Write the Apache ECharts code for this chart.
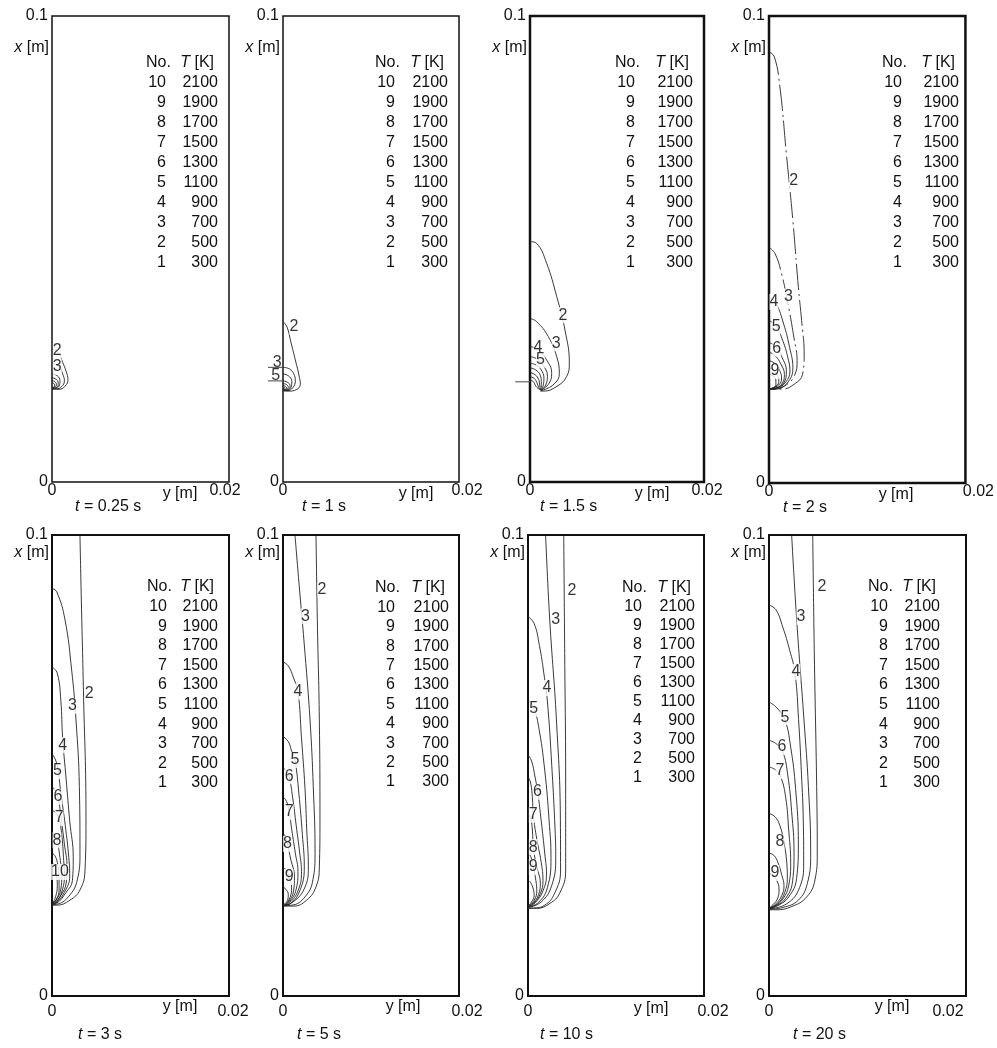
<!DOCTYPE html>
<html><head><meta charset="utf-8">
<script src="https://cdn.jsdelivr.net/npm/echarts/dist/echarts.min.js"></script>
<style>html,body{margin:0;padding:0;background:#fff}#c{width:997px;height:1048px}</style>
</head><body><div id="c"></div>
<script>
// ---------- DATA (y [m], x [m]) ----------
const times = ['0.25', '1', '1.5', '2', '3', '5', '10', '20'];
const legendNo = ['10', '9', '8', '7', '6', '5', '4', '3', '2', '1'];
const legendT = ['2100', '1900', '1700', '1500', '1300', '1100', '900', '700', '500', '300'];
const yTickValues = [0, 0.02];
const xTickValues = [0, 0.1];

const c_t0_25 = [
  [2, [[0,0.0285],[0.0007,0.0278],[0.0012,0.0257],[0.0016,0.0237],[0.0018,0.0220],[0.0015,0.0206],[0.0008,0.0199],[0,0.0199]]],
  [3, [[0,0.0255],[0.0008,0.0247],[0.0012,0.0232],[0.0014,0.0217],[0.0011,0.0205],[0.0005,0.0200],[0,0.0200]]],
  [4, [[0,0.0232],[0.0006,0.0228],[0.0009,0.0217],[0.0008,0.0206],[0.0004,0.0201],[0,0.0201]]],
  [5, [[0,0.0224],[0.0005,0.0220],[0.0007,0.0212],[0.0006,0.0204],[0,0.0201]]],
  [6, [[0,0.0218],[0.0004,0.0214],[0.0005,0.0208],[0.0003,0.0203],[0,0.0202]]],
  [7, [[0,0.0213],[0.0003,0.0209],[0.0003,0.0205],[0,0.0203]]]
];
const lab_t0_25 = [[0.0006,0.0282,'2'],[0.0006,0.0247,'3']];

const c_t1 = [
  [2, [[0,0.0344],[0.00045,0.0333],[0.0009,0.0300],[0.0014,0.0262],[0.00185,0.0226],[0.00197,0.0210],[0.0015,0.0198],[0.0006,0.0195],[0,0.0196]]],
  [3, [[0,0.0246],[0.0007,0.0243],[0.0012,0.0233],[0.0014,0.0217],[0.0011,0.0202],[0.0005,0.0196],[0,0.0196]]],
  [4, [[0,0.0232],[0.0006,0.0228],[0.0010,0.0216],[0.0009,0.0203],[0.0004,0.0197],[0,0.0197]]],
  [5, [[0,0.0217],[0.0005,0.0214],[0.0008,0.0207],[0.0007,0.0200],[0,0.0197]]],
  [6, [[0,0.0211],[0.0004,0.0209],[0.0006,0.0203],[0.0003,0.0198],[0,0.0197]]],
  [7, [[0,0.0207],[0.0003,0.0205],[0.0004,0.0201],[0,0.0198]]],
  [8, [[0,0.0204],[0.0002,0.0202],[0,0.0199]]]
];
const lab_t1 = [[0.00125,0.0333,'2'],[-0.00065,0.0256,'3'],[-0.00083,0.0228,'5']];
// leader stubs drawn left of the axis: [y0, x0, y1, x1]
const stub_t1 = [[-0.0017,0.0246,0,0.0246],[-0.0017,0.0217,0,0.0217]];

const c_t1_5 = [
  [2, [[0,0.0516],[0.00077,0.0512],[0.00192,0.0469],[0.00307,0.0398],[0.00402,0.0326],[0.00452,0.0255],[0.0042,0.0226],[0.00307,0.0205],[0.00153,0.0195],[0.0012,0.0195]]],
  [3, [[0,0.0351],[0.00077,0.0344],[0.0021,0.0312],[0.00307,0.0269],[0.00337,0.0233],[0.00287,0.0212],[0.0015,0.0197],[0.0012,0.0196]]],
  [4, [[0,0.0290],[0.0008,0.0286],[0.0018,0.0265],[0.00249,0.0233],[0.0022,0.0212],[0.0013,0.0197]]],
  [5, [[0,0.0269],[0.0008,0.0264],[0.0016,0.0248],[0.0020,0.0227],[0.0018,0.0208],[0.0013,0.0197]]],
  [6, [[0,0.0255],[0.0008,0.0250],[0.0014,0.0237],[0.0016,0.0222],[0.0015,0.0206],[0.0013,0.0197]]],
  [7, [[0,0.0245],[0.0007,0.0240],[0.0012,0.0228],[0.0013,0.0216],[0.0013,0.0203],[0.0013,0.0197]]],
  [8, [[0,0.0235],[0.0006,0.0230],[0.0010,0.0220],[0.0011,0.0210],[0.0012,0.0198]]],
  [9, [[0,0.0226],[0.0005,0.0222],[0.0008,0.0213],[0.0010,0.0203],[0.0012,0.0198]]],
  [10, [[0,0.0219],[0.0004,0.0215],[0.0006,0.0208],[0.0009,0.0201],[0.0012,0.0198]]]
];
const lab_t1_5 = [[0.0038,0.0358,'2'],[0.0030,0.0298,'3'],[0.0009,0.0289,'4'],[0.0012,0.0262,'5']];
const stub_t1_5 = [[-0.0017,0.0215,0,0.0215]];

const c_t2 = [
  [2, [[0,0.0923],[0.00054,0.0913],[0.00111,0.0848],[0.00177,0.0705],[0.00243,0.0562],[0.00299,0.0419],[0.00332,0.0348],[0.00358,0.0276],[0.00342,0.0233],[0.00259,0.0212],[0.00128,0.0201],[0,0.0201]]],
  [3, [[0,0.0505],[0.00062,0.0491],[0.00128,0.0448],[0.00194,0.0383],[0.00253,0.0312],[0.00286,0.0262],[0.00259,0.0230],[0.00161,0.0208],[0.0006,0.0201],[0,0.0201]]],
  [4, [[0,0.0398],[0.0007,0.0385],[0.0015,0.0340],[0.0021,0.0290],[0.00243,0.0247],[0.0020,0.0218],[0.0010,0.0203],[0,0.0201]]],
  [5, [[0,0.0348],[0.0007,0.0337],[0.0014,0.0305],[0.0019,0.0270],[0.00213,0.0240],[0.0017,0.0216],[0.0008,0.0203],[0,0.0201]]],
  [6, [[0,0.0301],[0.0007,0.0292],[0.0013,0.0270],[0.00177,0.0240],[0.0015,0.0214],[0.0007,0.0203],[0,0.0201]]],
  [7, [[0,0.0280],[0.0006,0.0273],[0.0012,0.0255],[0.00157,0.0232],[0.0013,0.0212],[0.0006,0.0203],[0,0.0201]]],
  [8, [[0,0.0262],[0.0006,0.0256],[0.0011,0.0240],[0.00128,0.0225],[0.0010,0.0210],[0,0.0201]]],
  [9, [[0,0.0247],[0.0005,0.0242],[0.0009,0.0230],[0.0010,0.0218],[0.0007,0.0207],[0,0.0201]]],
  [10, [[0,0.0233],[0.0004,0.0229],[0.0007,0.0220],[0.0007,0.0210],[0,0.0201]]]
];
const lab_t2 = [[0.00251,0.0648,'2'],[0.00197,0.0399,'3'],[0.0005,0.0388,'4'],[0.00074,0.0335,'5'],[0.00079,0.0288,'6'],[0.0006,0.0240,'9']];

const c_t3 = [
  [2, [[0.00316,0.1],[0.00328,0.0888],[0.00354,0.0671],[0.00384,0.0382],[0.00373,0.0273],[0.00316,0.0230],[0.00203,0.0208],[0.00053,0.0197],[0,0.0197]]],
  [3, [[0,0.0884],[0.00053,0.0877],[0.00147,0.0816],[0.00222,0.0707],[0.00271,0.0599],[0.00309,0.0454],[0.00316,0.0310],[0.00286,0.0252],[0.00184,0.0215],[0.00053,0.0199],[0,0.0198]]],
  [4, [[0,0.0714],[0.0006,0.0700],[0.0010,0.0640],[0.0012,0.0560],[0.0016,0.0470],[0.0020,0.0380],[0.0024,0.0300],[0.0023,0.0250],[0.0016,0.0225],[0.0005,0.0201],[0,0.0199]]],
  [5, [[0,0.0525],[0.0004,0.0512],[0.0007,0.0488],[0.0010,0.0440],[0.0015,0.0370],[0.0019,0.0300],[0.0020,0.0260],[0.0014,0.0225],[0.0004,0.0201],[0,0.0199]]],
  [6, [[0,0.0454],[0.0004,0.0445],[0.0007,0.0430],[0.0010,0.0390],[0.0014,0.0330],[0.0017,0.0280],[0.0016,0.0245],[0.0010,0.0218],[0.0003,0.0201],[0,0.0199]]],
  [7, [[0,0.0403],[0.0005,0.0396],[0.0008,0.0384],[0.0011,0.0350],[0.0013,0.0300],[0.0014,0.0260],[0.0012,0.0232],[0.0007,0.0210],[0,0.0199]]],
  [8, [[0,0.0354],[0.0004,0.0348],[0.0006,0.0336],[0.0009,0.0300],[0.0011,0.0260],[0.0010,0.0232],[0.0006,0.0212],[0,0.0199]]],
  [9, [[0,0.0310],[0.0003,0.0305],[0.0006,0.0290],[0.0008,0.0255],[0.0008,0.0230],[0.0005,0.0210],[0,0.0199]]],
  [10, [[0,0.0288],[0.0003,0.0283],[0.0005,0.0265],[0.0006,0.0240],[0.0004,0.0215],[0,0.0199]]]
];
const lab_t3 = [[0.0042,0.0655,'2'],[0.00232,0.0629,'3'],[0.0012,0.0544,'4'],[0.00062,0.0488,'5'],[0.00068,0.0432,'6'],[0.0008,0.0386,'7'],[0.00056,0.0338,'8'],[0.0009,0.0269,'10']];

const c_t5 = [
  [2, [[0.00375,0.1],[0.0039,0.0816],[0.00413,0.0599],[0.0042,0.0382],[0.00413,0.0280],[0.00375,0.0237],[0.00269,0.0208],[0.00117,0.0195],[0,0.0195]]],
  [3, [[0.00136,0.1],[0.00185,0.0888],[0.0025,0.0743],[0.00307,0.0599],[0.00344,0.0454],[0.00364,0.0310],[0.0034,0.0252],[0.0025,0.0215],[0.001,0.0197],[0,0.0196]]],
  [4, [[0,0.0725],[0.0006,0.0716],[0.0012,0.0690],[0.0017,0.0660],[0.0021,0.0560],[0.0025,0.0450],[0.0027,0.0360],[0.00288,0.0280],[0.0024,0.0232],[0.0010,0.0202],[0,0.0196]]],
  [5, [[0,0.0563],[0.0006,0.0552],[0.0010,0.0530],[0.00136,0.0512],[0.0018,0.0440],[0.0022,0.0350],[0.00242,0.0280],[0.0019,0.0228],[0.0008,0.0200],[0,0.0196]]],
  [6, [[0,0.0495],[0.0004,0.0488],[0.0007,0.0476],[0.0011,0.0430],[0.0015,0.0370],[0.0019,0.0310],[0.0021,0.0270],[0.0017,0.0228],[0.0007,0.0201],[0,0.0196]]],
  [7, [[0,0.0432],[0.0004,0.0422],[0.0007,0.0400],[0.0010,0.0360],[0.0014,0.0310],[0.0017,0.0270],[0.0015,0.0232],[0.0006,0.0201],[0,0.0196]]],
  [8, [[0,0.0353],[0.0003,0.0345],[0.0005,0.0330],[0.0009,0.0295],[0.0013,0.0260],[0.0012,0.0228],[0.0005,0.0201],[0,0.0196]]],
  [9, [[0,0.0280],[0.0004,0.0272],[0.0007,0.0258],[0.00098,0.0235],[0.0008,0.0214],[0.0003,0.0199],[0,0.0196]]],
  [10, [[0,0.0237],[0.0003,0.0232],[0.0006,0.0220],[0.0005,0.0207],[0,0.0197]]]
];
const lab_t5 = [[0.00443,0.0881,'2'],[0.00256,0.0824,'3'],[0.0017,0.066,'4'],[0.00136,0.0512,'5'],[0.0007,0.0477,'6'],[0.0007,0.0399,'7'],[0.0005,0.033,'8'],[0.0007,0.0258,'9']];

const c_t10 = [
  [2, [[0.00406,0.1],[0.00417,0.0743],[0.00428,0.0454],[0.00428,0.0273],[0.0036,0.0223],[0.0025,0.0201],[0.00095,0.0190],[0,0.0190]]],
  [3, [[0.0020,0.1],[0.00247,0.0816],[0.00323,0.0599],[0.00368,0.0382],[0.0037,0.0273],[0.00303,0.0223],[0.0019,0.0197],[0.0006,0.0191],[0,0.0191]]],
  [4, [[0,0.0823],[0.0007,0.0808],[0.0013,0.0760],[0.0018,0.0700],[0.0022,0.0640],[0.0027,0.0500],[0.0031,0.0350],[0.00315,0.0300],[0.0027,0.0240],[0.0015,0.0204],[0,0.0192]]],
  [5, [[0,0.0642],[0.0006,0.0628],[0.0012,0.0585],[0.0019,0.0490],[0.0024,0.0380],[0.00261,0.0300],[0.0022,0.0235],[0.0012,0.0203],[0,0.0193]]],
  [6, [[0,0.0523],[0.0004,0.0510],[0.0008,0.0475],[0.0011,0.0443],[0.0015,0.0380],[0.0019,0.0310],[0.0021,0.0265],[0.0017,0.0228],[0.0008,0.0202],[0,0.0193]]],
  [7, [[0,0.0476],[0.0003,0.0462],[0.0005,0.0430],[0.0006,0.0393],[0.0010,0.0340],[0.0015,0.0290],[0.0017,0.0250],[0.0014,0.0222],[0.0007,0.0202],[0,0.0193]]],
  [8, [[0,0.0396],[0.0003,0.0385],[0.0005,0.0360],[0.0006,0.0323],[0.0010,0.0280],[0.0014,0.0245],[0.0012,0.0220],[0.0006,0.0202],[0,0.0193]]],
  [9, [[0,0.0310],[0.0003,0.0303],[0.0006,0.0280],[0.0009,0.0250],[0.0010,0.0228],[0.0007,0.0208],[0,0.0194]]],
  [10, [[0,0.0252],[0.0003,0.0246],[0.0006,0.0232],[0.0007,0.0218],[0.0004,0.0204],[0,0.0195]]]
];
const lab_t10 = [[0.005,0.088,'2'],[0.00315,0.0816,'3'],[0.00215,0.0668,'4'],[0.00065,0.0623,'5'],[0.00108,0.0443,'6'],[0.0006,0.0393,'7'],[0.0006,0.0323,'8'],[0.0006,0.028,'9']];

const c_t20 = [
  [2, [[0.00444,0.1],[0.0046,0.0743],[0.00484,0.0454],[0.0049,0.0310],[0.00467,0.0252],[0.00383,0.0215],[0.0023,0.0194],[0.00069,0.0187],[0,0.0187]]],
  [3, [[0.0023,0.1],[0.00281,0.0816],[0.00355,0.0599],[0.0040,0.0454],[0.00423,0.0310],[0.00389,0.0244],[0.00298,0.0208],[0.00142,0.0192],[0,0.0188]]],
  [4, [[0,0.0848],[0.0007,0.0838],[0.0014,0.0800],[0.0021,0.0750],[0.00264,0.0700],[0.0030,0.0600],[0.0033,0.0480],[0.00348,0.0382],[0.00352,0.0290],[0.0031,0.0235],[0.0018,0.0200],[0,0.0189]]],
  [5, [[0,0.0638],[0.0008,0.0625],[0.0016,0.0600],[0.0022,0.0540],[0.0027,0.0450],[0.00298,0.0330],[0.0028,0.0255],[0.0020,0.0215],[0.0009,0.0196],[0,0.0189]]],
  [6, [[0,0.0555],[0.0008,0.0546],[0.0014,0.0530],[0.0019,0.0480],[0.0023,0.0400],[0.00254,0.0310],[0.0024,0.0250],[0.0017,0.0212],[0.0007,0.0195],[0,0.0189]]],
  [7, [[0,0.0497],[0.0007,0.0490],[0.0012,0.0475],[0.0017,0.0430],[0.0020,0.0360],[0.0022,0.0290],[0.0020,0.0240],[0.0014,0.0210],[0.0006,0.0195],[0,0.0190]]],
  [8, [[0,0.0396],[0.0006,0.0389],[0.0011,0.0370],[0.0015,0.0335],[0.0018,0.0290],[0.00186,0.0255],[0.0016,0.0225],[0.0010,0.0203],[0,0.0190]]],
  [9, [[0,0.0310],[0.0005,0.0305],[0.0009,0.0290],[0.0013,0.0262],[0.00152,0.0240],[0.0013,0.0218],[0.0007,0.0200],[0,0.0190]]],
  [10, [[0,0.0266],[0.0004,0.0262],[0.0008,0.0250],[0.00102,0.0232],[0.0009,0.0213],[0.0004,0.0198],[0,0.0191]]]
];
const lab_t20 = [[0.00538,0.0887,'2'],[0.00325,0.0822,'3'],[0.00274,0.0703,'4'],[0.00162,0.0605,'5'],[0.00132,0.054,'6'],[0.00112,0.0488,'7'],[0.00112,0.0334,'8'],[0.00061,0.0267,'9']];

// ---------- LAYOUT ----------
const FONT = '"Liberation Sans", Arial, Helvetica, sans-serif';
const panels = [
  {c:c_t0_25, l:lab_t0_25, s:[], box:[52,16,177,466], bw:1.5, leg:[166,218,63,20], xmY:48, ym:[180,494], tl:[75,507], d02:-4, dash:false, xm:1},
  {c:c_t1, l:lab_t1, s:stub_t1, box:[283,16,176,466], bw:1.5, leg:[395,448,63,20], xmY:48, ym:[416,494], tl:[302,507], d02:8, dash:false, xm:1},
  {c:c_t1_5, l:lab_t1_5, s:stub_t1_5, box:[530,16,174,466], bw:2.5, leg:[635,693,63,20], xmY:48, ym:[652,494], tl:[540,507], d02:3, dash:false, xm:1},
  {c:c_t2, l:lab_t2, s:[], box:[769,16,203,467], bw:2.5, leg:[902,959,63,20], xmY:48, ym:[896,495], tl:[783,508], d02:13, dash:true, xm:1},
  {c:c_t3, l:lab_t3, s:[], box:[52,535,177,461], bw:2, leg:[167,218,587,19.6], xmY:553, ym:[180,1007], tl:[78,1035], d02:4, dash:false, xm:8},
  {c:c_t5, l:lab_t5, s:[], box:[283,535,176,461], bw:2, leg:[395,449,588,19.4], xmY:553, ym:[403,1007], tl:[297,1035], d02:8, dash:false, xm:8},
  {c:c_t10, l:lab_t10, s:[], box:[528,535,176,461], bw:2, leg:[642,695,588,19.0], xmY:553, ym:[651,1009], tl:[540,1035], d02:9, dash:false, xm:8},
  {c:c_t20, l:lab_t20, s:[], box:[769,535,197,461], bw:2, leg:[888,940,587,19.6], xmY:553, ym:[892,1007], tl:[793,1035], d02:-18, dash:false, xm:8}
];

const grids = [], xAxes = [], yAxes = [], series = [], graphics = [];
const LINE = '#222';
panels.forEach((P, i) => {
  const [gl, gt, gw, gh] = P.box;
  grids.push({left: gl, top: gt, width: gw, height: gh, show: true, borderColor: '#111', borderWidth: P.bw, backgroundColor: 'transparent'});
  const pad = P.d02 >= 0 ? [0, 0, 0, 2 * P.d02] : [0, -2 * P.d02, 0, 0];
  xAxes.push({type: 'value', gridIndex: i, min: yTickValues[0], max: yTickValues[1], interval: 0.02,
    axisLine: {show: false}, axisTick: {show: false}, splitLine: {show: false},
    axisLabel: {show: true, margin: P.xm, showMinLabel: true, showMaxLabel: true,
      formatter: v => (v === 0 ? '{a|0}' : '{b|0.02}'),
      rich: {a: {fontSize: 16, fontFamily: FONT, color: '#111'}, b: {fontSize: 16, fontFamily: FONT, color: '#111', padding: pad}}}});
  yAxes.push({type: 'value', gridIndex: i, min: xTickValues[0], max: xTickValues[1], interval: 0.1,
    axisLine: {show: false}, axisTick: {show: false}, splitLine: {show: false},
    axisLabel: {show: true, margin: 4, fontSize: 16, fontFamily: FONT, color: '#111', showMinLabel: true, showMaxLabel: true,
      formatter: v => (v === 0 ? '0' : '0.1')}});
  P.c.forEach(([no, pts]) => {
    const dashed = P.dash && (no === 2 || no === 3);
    series.push({type: 'line', xAxisIndex: i, yAxisIndex: i, data: pts, smooth: 0.45, showSymbol: false, symbol: 'none',
      silent: true, animation: false, z: 2,
      lineStyle: {color: LINE, width: 0.9, type: dashed ? [26, 4, 2, 4] : 'solid'}});
  });
  if (P.s.length) {
    series.push({type: 'custom', xAxisIndex: i, yAxisIndex: i, data: P.s, clip: false, silent: true, animation: false, z: 6,
      encode: {x: [0, 2], y: [1, 3]},
      renderItem: (params, api) => {
        const a = api.coord([api.value(0), api.value(1)]);
        const b = api.coord([api.value(2), api.value(3)]);
        return {type: 'line', shape: {x1: a[0], y1: a[1], x2: b[0], y2: b[1]}, style: {stroke: '#555', lineWidth: 1.1}};
      }});
  }
  series.push({type: 'scatter', xAxisIndex: i, yAxisIndex: i, symbolSize: 1, clip: false, silent: true,
    data: P.l.map(d => ({value: d, label: d[0] < 0 ? {backgroundColor: 'transparent'} : {}})),
    animation: false, z: 5, itemStyle: {color: 'rgba(0,0,0,0)'},
    label: {show: true, position: 'inside', formatter: p => p.value[2], fontSize: 16, fontFamily: FONT, color: '#000',
      backgroundColor: '#fff', padding: [0, 0]}});

  // legend table
  const [c1, c2, ry, sp] = P.leg;
  graphics.push({type: 'text', x: c1 - 20, y: ry, style: {text: 'No.', fontSize: 16, fontFamily: FONT, fill: '#111', align: 'left', verticalAlign: 'middle'}});
  graphics.push({type: 'text', x: c2 - 4, y: ry, style: {text: '{i|T} [K]', fontSize: 16, fontFamily: FONT, fill: '#111', align: 'right', verticalAlign: 'middle',
    rich: {i: {fontSize: 16, fontFamily: FONT, fontStyle: 'italic', fill: '#111'}}}});
  legendNo.forEach((n, j) => {
    graphics.push({type: 'text', x: c1, y: ry + (j + 1) * sp, style: {text: n, fontSize: 16, fontFamily: FONT, fill: '#111', align: 'right', verticalAlign: 'middle'}});
    graphics.push({type: 'text', x: c2, y: ry + (j + 1) * sp, style: {text: legendT[j], fontSize: 16, fontFamily: FONT, fill: '#111', align: 'right', verticalAlign: 'middle'}});
  });
  // axis names
  graphics.push({type: 'text', x: gl - 3, y: P.xmY, style: {text: '{i|x} [m]', fontSize: 16, fontFamily: FONT, fill: '#111', align: 'right', verticalAlign: 'middle',
    rich: {i: {fontSize: 16, fontFamily: FONT, fontStyle: 'italic', fill: '#111'}}}});
  graphics.push({type: 'text', x: P.ym[0], y: P.ym[1], style: {text: 'y [m]', fontSize: 16, fontFamily: FONT, fill: '#111', align: 'center', verticalAlign: 'middle'}});
  graphics.push({type: 'text', x: P.tl[0], y: P.tl[1], style: {text: '{i|t} = ' + times[i] + ' s', fontSize: 16, fontFamily: FONT, fill: '#111', align: 'left', verticalAlign: 'middle',
    rich: {i: {fontSize: 16, fontFamily: FONT, fontStyle: 'italic', fill: '#111'}}}});
});

const chart = echarts.init(document.getElementById('c'), null, {renderer: 'canvas'});
chart.setOption({animation: false, backgroundColor: '#fff', grid: grids, xAxis: xAxes, yAxis: yAxes, series: series, graphic: graphics});
</script></body></html>
